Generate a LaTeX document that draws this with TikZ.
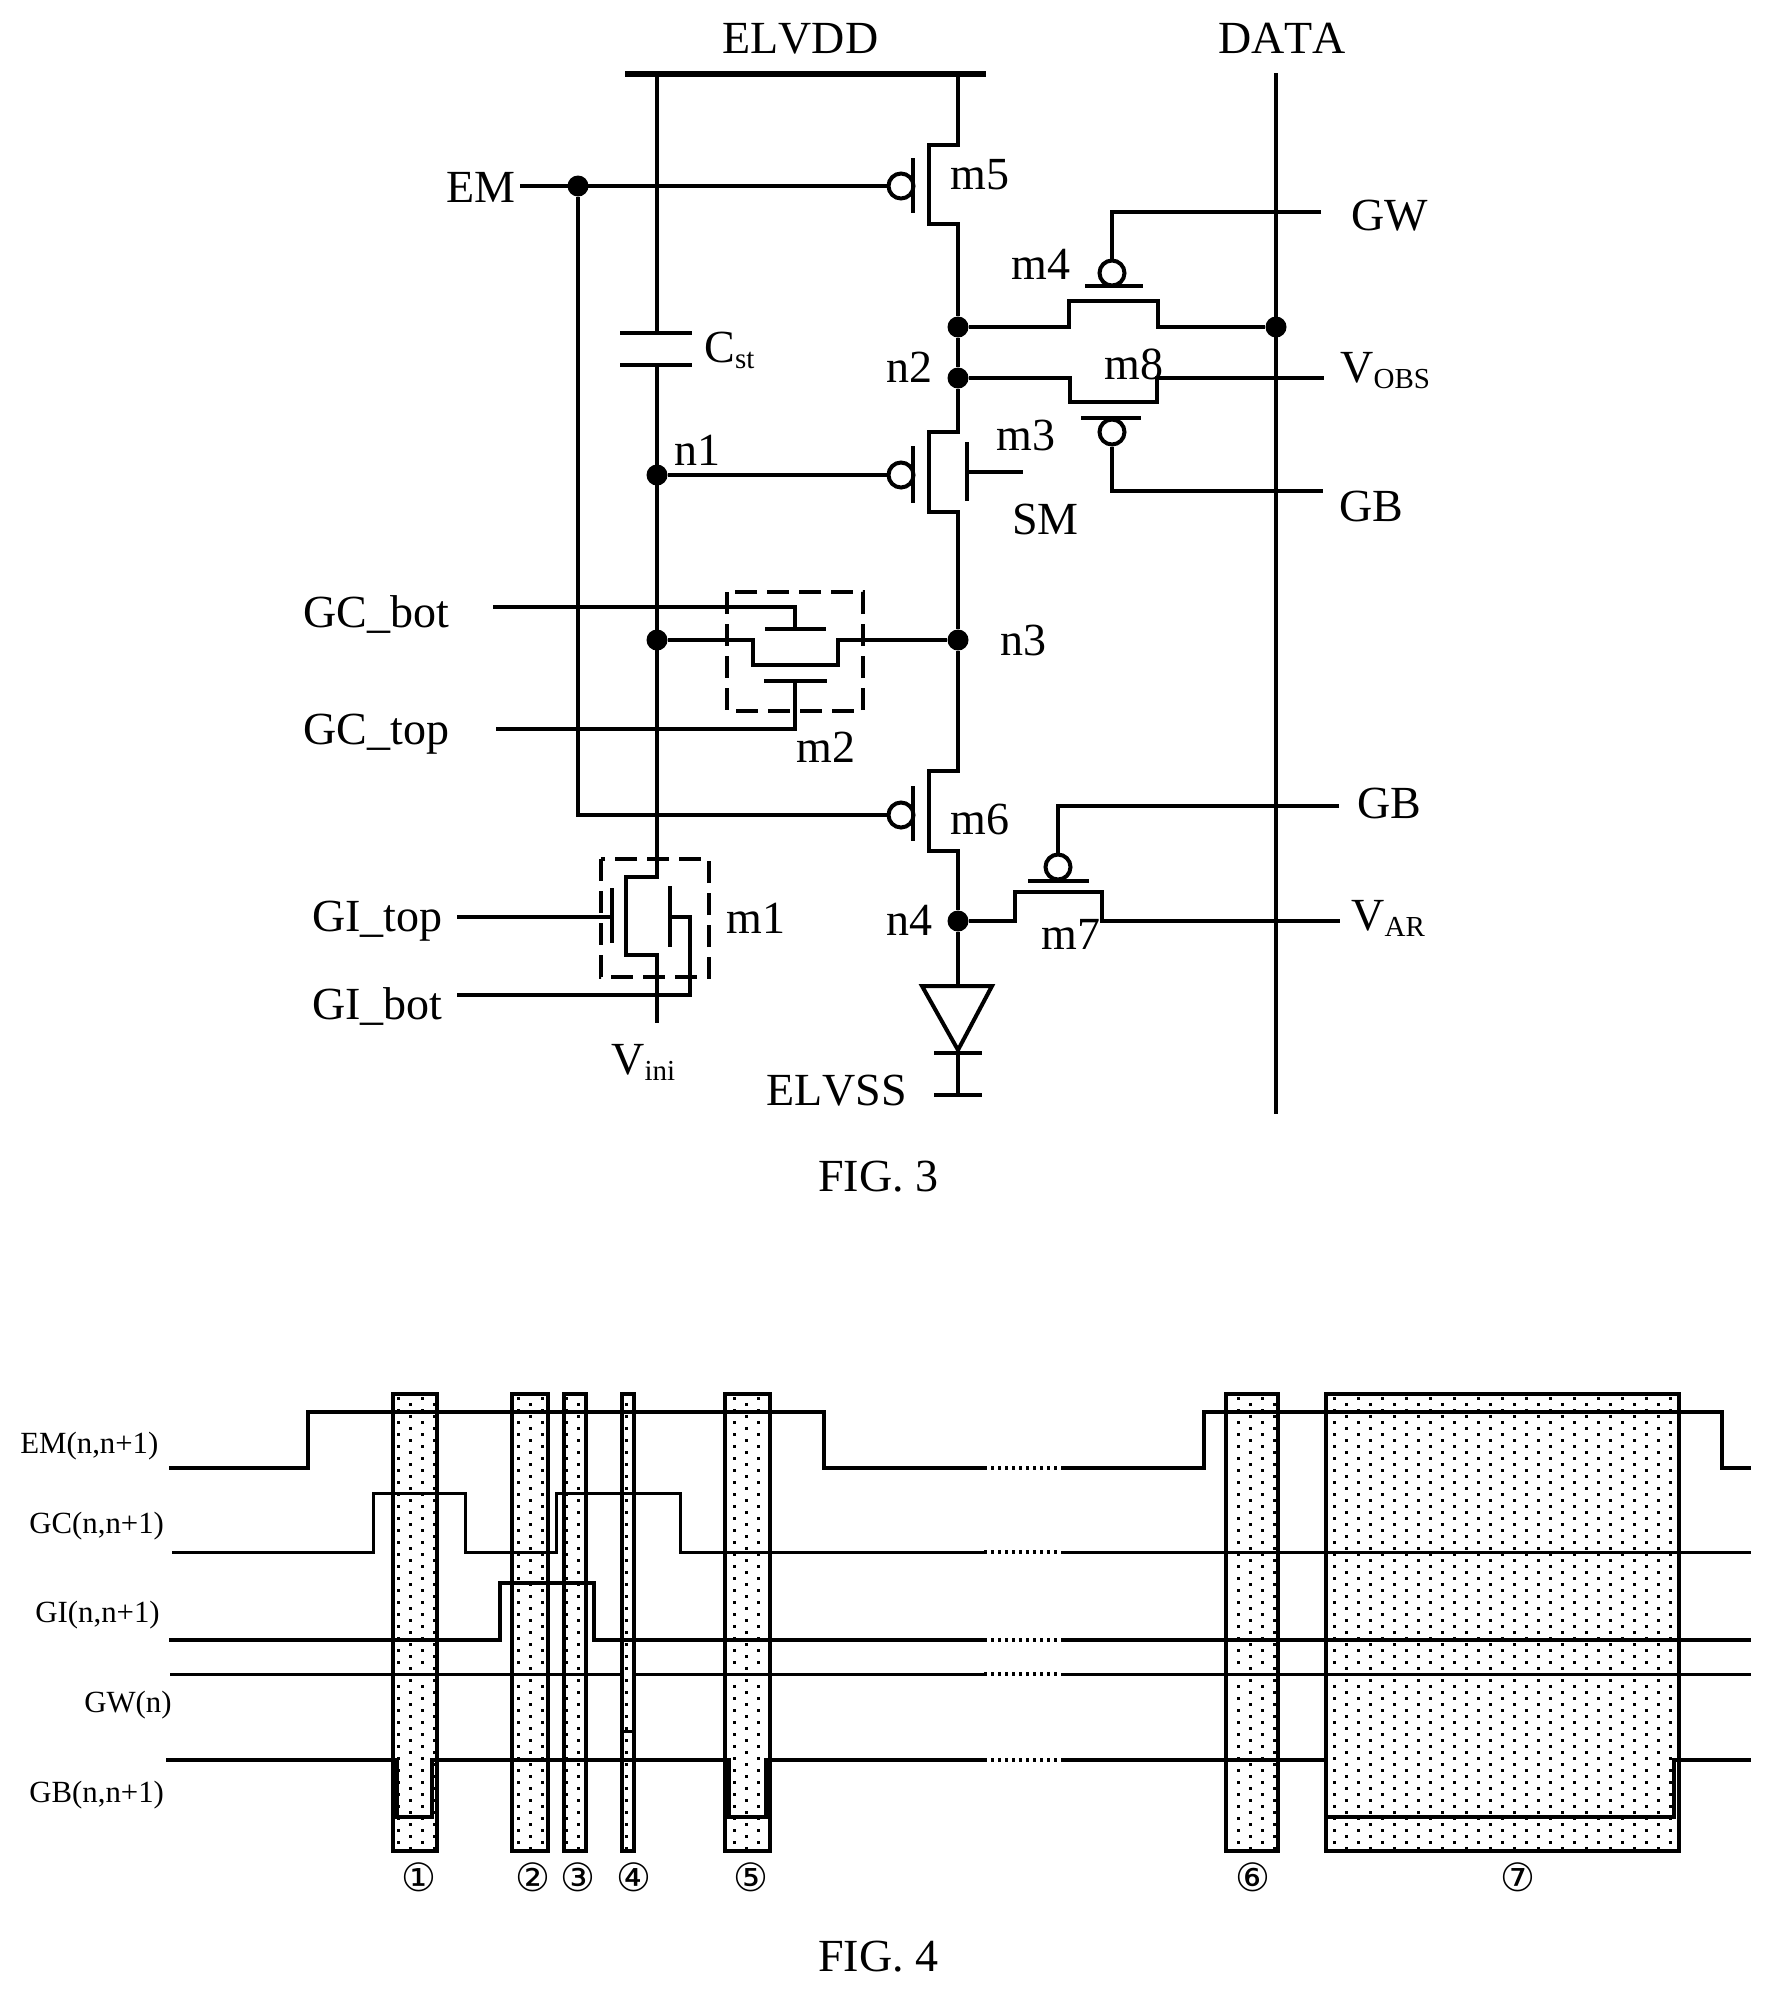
\documentclass[tikz,border=0pt]{standalone}
\usepackage{fontspec}
\setmainfont[Kerning=Off]{Liberation Serif}
\newfontfamily\circfont{DejaVu Sans}
\newcommand{\lbl}{\fontsize{23}{23}\selectfont}
\newcommand{\subl}[1]{\raisebox{-3.3pt}{\fontsize{14.5}{14.5}\selectfont #1}}
\newcommand{\stipple}[2]{%
  \begin{scope}
    \clip (#1,1394) rectangle (#2,1851);
    \pgfmathtruncatemacro\kA{floor((#1-1238)/24)-1}
    \pgfmathtruncatemacro\kB{ceil((#2-1238)/24)}
    \foreach \r in {0,...,76} {
      \pgfmathsetmacro\sh{mod(\r,2)*12}
      \foreach \k in {\kA,...,\kB} {
        \fill ({1238+24*\k+\sh-1.5},{1398+6*\r-1.5}) rectangle +(3,3);
      }
    }
  \end{scope}}
\tikzset{
  wire/.style={line width=2pt,line join=miter},
  plate/.style={line width=2.2pt},
  junction/.style={circle,fill=black,inner sep=0pt,minimum size=10.5pt},
  bubble/.style={circle,draw,line width=2pt,fill=white,inner sep=0pt,minimum size=12.5pt},
  txt/.style={inner sep=0pt,anchor=base west,font=\lbl},
  tsm/.style={inner sep=0pt,anchor=base west,font=\fontsize{15.4}{15.4}\selectfont},
  circled/.style={inner sep=0pt,font=\circfont\fontsize{19.5}{19.5}\selectfont},
  dbox/.style={line width=2pt,dash pattern=on 11pt off 5pt},
  band/.style={line width=2pt,fill=white},
  sig/.style={line width=2pt,line join=miter},
  sigthin/.style={line width=1.5pt},
  gap/.style={line width=2pt,dash pattern=on 1.5pt off 2pt},
}
\begin{document}
\begin{tikzpicture}[x=0.5pt,y=-0.5pt]
\useasboundingbox (0,0) rectangle (1771,1993);
% ------------------ FIG. 3 : junctions
\node[junction] (jem) at (578,186) {};
\node[junction] (j2a) at (958,327) {};
\node[junction] (jda) at (1276,327) {};
\node[junction] (n2) at (958,378) {};
\node[junction] (n1) at (657,475) {};
\node[junction] (j3l) at (657,640) {};
\node[junction] (n3) at (958,640) {};
\node[junction] (n4) at (958,921) {};
% bubbles
\node[bubble] (b5) at (901,186) {};
\node[bubble] (b3) at (901,475) {};
\node[bubble] (b6) at (901,815) {};
\node[bubble] (b4) at (1112,273) {};
\node[bubble] (b8) at (1112,432) {};
\node[bubble] (b7) at (1058,867) {};
% rails
\coordinate (vddL) at (625,74);
\coordinate (vddR) at (986,74);
\draw[line width=2.6pt] (vddL) -- (vddR);
\coordinate (dataT) at (1276,73);
\coordinate (dataB) at (1276,1114);
\draw[wire] (dataT) -- (dataB);
% storage capacitor and n1 line
\coordinate (cT) at (657,74);
\coordinate (c1) at (657,333);
\coordinate (c2) at (657,365);
\coordinate (c1a) at (620,333); \coordinate (c1b) at (692,333);
\coordinate (c2a) at (620,365); \coordinate (c2b) at (692,365);
\draw[wire] (cT) -- (c1);
\draw[plate] (c1a) -- (c1b);
\draw[plate] (c2a) -- (c2b);
% EM
\coordinate (emL) at (520,186);
\draw[wire] (emL) -- (b5.west);
\coordinate (emK) at (578,815);
\draw[wire] (jem) -- (emK) -- (b6.west);
% m5
\coordinate (m5t) at (958,74); \coordinate (m5a) at (958,145); \coordinate (m5b) at (929,145);
\coordinate (m5c) at (929,224); \coordinate (m5d) at (958,224);
\draw[wire] (m5t) -- (m5a) -- (m5b) -- (m5c) -- (m5d) -- (j2a);
\coordinate (g5a) at (913,158); \coordinate (g5b) at (913,213);
\draw[wire] (g5a) -- (g5b);
% m3
\draw[wire] (j2a) -- (n2);
\coordinate (m3a) at (958,432); \coordinate (m3b) at (929,432);
\coordinate (m3c) at (929,512); \coordinate (m3d) at (958,512);
\draw[wire] (n2) -- (m3a) -- (m3b) -- (m3c) -- (m3d) -- (n3);
\coordinate (g3a) at (913,446); \coordinate (g3b) at (913,503);
\draw[wire] (g3a) -- (g3b);
\coordinate (g3sa) at (967,442); \coordinate (g3sb) at (967,501);
\coordinate (g3sc) at (967,472); \coordinate (g3sd) at (1023,472);
\draw[wire] (g3sa) -- (g3sb);
\draw[wire] (g3sc) -- (g3sd);
\draw[wire] (n1) -- (b3.west);
% m4
\coordinate (gwR) at (1321,212); \coordinate (gwK) at (1112,212);
\draw[wire] (gwR) -- (gwK) -- (b4.north);
\coordinate (g4a) at (1085,286); \coordinate (g4b) at (1143,286);
\draw[plate] (g4a) -- (g4b);
\coordinate (m4a) at (1069,327); \coordinate (m4b) at (1069,301);
\coordinate (m4c) at (1158,301); \coordinate (m4d) at (1158,327);
\draw[wire] (j2a) -- (m4a) -- (m4b) -- (m4c) -- (m4d) -- (jda);
% m8
\coordinate (m8a) at (1070,378); \coordinate (m8b) at (1070,402);
\coordinate (m8c) at (1157,402); \coordinate (m8d) at (1157,378);
\coordinate (obsR) at (1324,378);
\draw[wire] (n2) -- (m8a) -- (m8b) -- (m8c) -- (m8d) -- (obsR);
\coordinate (g8a) at (1081,418); \coordinate (g8b) at (1141,418);
\draw[plate] (g8a) -- (g8b);
\coordinate (gbK) at (1112,491); \coordinate (gbR) at (1323,491);
\draw[wire] (b8.south) -- (gbK) -- (gbR);
% n1 line down to m1
\coordinate (m1a) at (657,877); \coordinate (m1b) at (626,877);
\coordinate (m1c) at (626,955); \coordinate (m1d) at (657,955);
\coordinate (vini) at (657,1023);
\draw[wire] (c2) -- (m1a) -- (m1b) -- (m1c) -- (m1d) -- (vini);
% m2
\coordinate (gcbL) at (493,607); \coordinate (gcbK) at (795,607); \coordinate (gcbG) at (795,629);
\coordinate (g2a) at (765,629); \coordinate (g2b) at (826,629);
\draw[wire] (gcbL) -- (gcbK) -- (gcbG);
\draw[plate] (g2a) -- (g2b);
\coordinate (m2a) at (753,640); \coordinate (m2b) at (753,665);
\coordinate (m2c) at (838,665); \coordinate (m2d) at (838,640);
\draw[wire] (j3l) -- (m2a) -- (m2b) -- (m2c) -- (m2d) -- (n3);
\coordinate (g2c) at (764,681); \coordinate (g2d) at (827,681);
\coordinate (g2e) at (795,681); \coordinate (g2f) at (795,729); \coordinate (gctL) at (496,729);
\draw[plate] (g2c) -- (g2d);
\draw[wire] (g2e) -- (g2f) -- (gctL);
\coordinate (d2a) at (727,592); \coordinate (d2b) at (863,711);
\draw[dbox] (d2a) rectangle (d2b);
% m6
\coordinate (m6a) at (958,771); \coordinate (m6b) at (929,771);
\coordinate (m6c) at (929,851); \coordinate (m6d) at (958,851);
\draw[wire] (n3) -- (m6a) -- (m6b) -- (m6c) -- (m6d) -- (n4);
\coordinate (g6a) at (913,786); \coordinate (g6b) at (913,841);
\draw[wire] (g6a) -- (g6b);
% m1 gates
\coordinate (gitL) at (457,917); \coordinate (g1m) at (612,917);
\coordinate (g1a) at (612,888); \coordinate (g1b) at (612,943);
\draw[wire] (gitL) -- (g1m);
\draw[wire] (g1a) -- (g1b);
\coordinate (g1c) at (670,886); \coordinate (g1d) at (670,947);
\draw[wire] (g1c) -- (g1d);
\coordinate (g1e) at (670,917); \coordinate (g1f) at (690,917);
\coordinate (g1g) at (690,995); \coordinate (gibL) at (457,995);
\draw[wire] (g1e) -- (g1f) -- (g1g) -- (gibL);
\coordinate (d1a) at (601,859); \coordinate (d1b) at (709,977);
\draw[dbox] (d1a) rectangle (d1b);
% m7
\coordinate (gb2R) at (1339,806); \coordinate (gb2K) at (1058,806);
\draw[wire] (gb2R) -- (gb2K) -- (b7.north);
\coordinate (g7a) at (1028,881); \coordinate (g7b) at (1089,881);
\draw[plate] (g7a) -- (g7b);
\coordinate (m7a) at (1015,921); \coordinate (m7b) at (1015,892);
\coordinate (m7c) at (1102,892); \coordinate (m7d) at (1102,921);
\coordinate (arR) at (1340,921);
\draw[wire] (n4) -- (m7a) -- (m7b) -- (m7c) -- (m7d) -- (arR);
% OLED
\coordinate (oT) at (958,986); \coordinate (oL) at (922,986); \coordinate (oR) at (992,986);
\coordinate (oA) at (958,1050); \coordinate (oB) at (958,1095);
\coordinate (o1a) at (934,1053); \coordinate (o1b) at (982,1053);
\coordinate (o2a) at (934,1095); \coordinate (o2b) at (982,1095);
\draw[wire] (n4) -- (oT);
\draw[wire,line join=miter] (oL) -- (oR) -- (oA) -- cycle;
\draw[plate] (o1a) -- (o1b);
\draw[plate] (o2a) -- (o2b);
\draw[wire] (oA) -- (oB);
% labels FIG.3
\node[txt] (tElvdd) at (722,53) {ELVDD};
\node[txt] (tData) at (1218,53) {DATA};
\node[txt] (tEm) at (446,202) {EM};
\node[txt] (tm5) at (950,189) {m5};
\node[txt] (tGw) at (1351,230) {GW};
\node[txt] (tm4) at (1011,279) {m4};
\node[txt] (tCst) at (704,362) {C\subl{st}};
\node[txt] (tn2) at (886,382) {n2};
\node[txt] (tm8) at (1104,379) {m8};
\node[txt] (tVobs) at (1340,382) {V\subl{OBS}};
\node[txt] (tGb) at (1339,521) {GB};
\node[txt] (tm3) at (996,450) {m3};
\node[txt] (tSm) at (1012,534) {SM};
\node[txt] (tn1) at (674,465) {n1};
\node[txt] (tn3) at (1000,655) {n3};
\node[txt] (tGcb) at (303,627) {GC\_bot};
\node[txt] (tGct) at (303,744) {GC\_top};
\node[txt] (tm2) at (796,762) {m2};
\node[txt] (tm6) at (950,834) {m6};
\node[txt] (tGit) at (312,931) {GI\_top};
\node[txt] (tGib) at (312,1019) {GI\_bot};
\node[txt] (tm1) at (726,933) {m1};
\node[txt] (tn4) at (886,935) {n4};
\node[txt] (tVini) at (611,1074) {V\subl{ini}};
\node[txt] (tElvss) at (766,1105) {ELVSS};
\node[txt] (tm7) at (1041,949) {m7};
\node[txt] (tGb2) at (1357,818) {GB};
\node[txt] (tVar) at (1351,930) {V\subl{AR}};
\node[txt] (tFig3) at (818,1191) {FIG. 3};
% ------------------ FIG. 4 : bands
\foreach \a/\b in {393/437,512/548,564/586,622/634,725/770,1226/1278,1326/1679} {
  \fill[white] (\a,1394) rectangle (\b,1851);
  \stipple{\a}{\b}
  \draw[band,fill=none] (\a,1394) rectangle (\b,1851);
}
% signals
\draw[sig] (169,1468) -- (308,1468) -- (308,1412) -- (824,1412) -- (824,1468) -- (984,1468);
\draw[gap] (984,1468) -- (1061,1468);
\draw[sig] (1061,1468) -- (1204,1468) -- (1204,1412) -- (1722,1412) -- (1722,1468) -- (1751,1468);
\draw[sigthin] (172,1552) -- (373,1552) -- (373,1493) -- (465,1493) -- (465,1552) -- (556,1552) -- (556,1493) -- (680,1493) -- (680,1552) -- (984,1552);
\draw[gap] (984,1552) -- (1061,1552);
\draw[sigthin] (1061,1552) -- (1751,1552);
\draw[sig] (169,1640) -- (500,1640) -- (500,1583) -- (594,1583) -- (594,1640) -- (984,1640);
\draw[gap] (984,1640) -- (1061,1640);
\draw[sig] (1061,1640) -- (1751,1640);
\draw[sigthin] (170,1674) -- (622,1674);
\draw[sigthin] (634,1674) -- (984,1674);
\draw[gap] (984,1674) -- (1061,1674);
\draw[sigthin] (1061,1674) -- (1751,1674);
\draw[sigthin] (622,1731) -- (634,1731);
\draw[sig] (166,1760) -- (397,1760) -- (397,1817) -- (432,1817) -- (432,1760) -- (729,1760) -- (729,1817) -- (766,1817) -- (766,1760) -- (984,1760);
\draw[gap] (984,1760) -- (1061,1760);
\draw[sig] (1061,1760) -- (1326,1760);
\draw[sig] (1326,1817) -- (1674,1817) -- (1674,1760) -- (1751,1760);
% labels FIG.4
\node[tsm] (lEm) at (20,1453) {EM(n,n+1)};
\node[tsm] (lGc) at (29,1533) {GC(n,n+1)};
\node[tsm] (lGi) at (35,1622) {GI(n,n+1)};
\node[tsm] (lGw) at (84,1712) {GW(n)};
\node[tsm] (lGb) at (29,1802) {GB(n,n+1)};
\node[circled] (c1n) at (419,1877) {①};
\node[circled] (c2n) at (533,1877) {②};
\node[circled] (c3n) at (578,1877) {③};
\node[circled] (c4n) at (634,1877) {④};
\node[circled] (c5n) at (751,1877) {⑤};
\node[circled] (c6n) at (1253,1877) {⑥};
\node[circled] (c7n) at (1518,1877) {⑦};
\node[txt] (tFig4) at (818,1971) {FIG. 4};
\end{tikzpicture}
\end{document}
